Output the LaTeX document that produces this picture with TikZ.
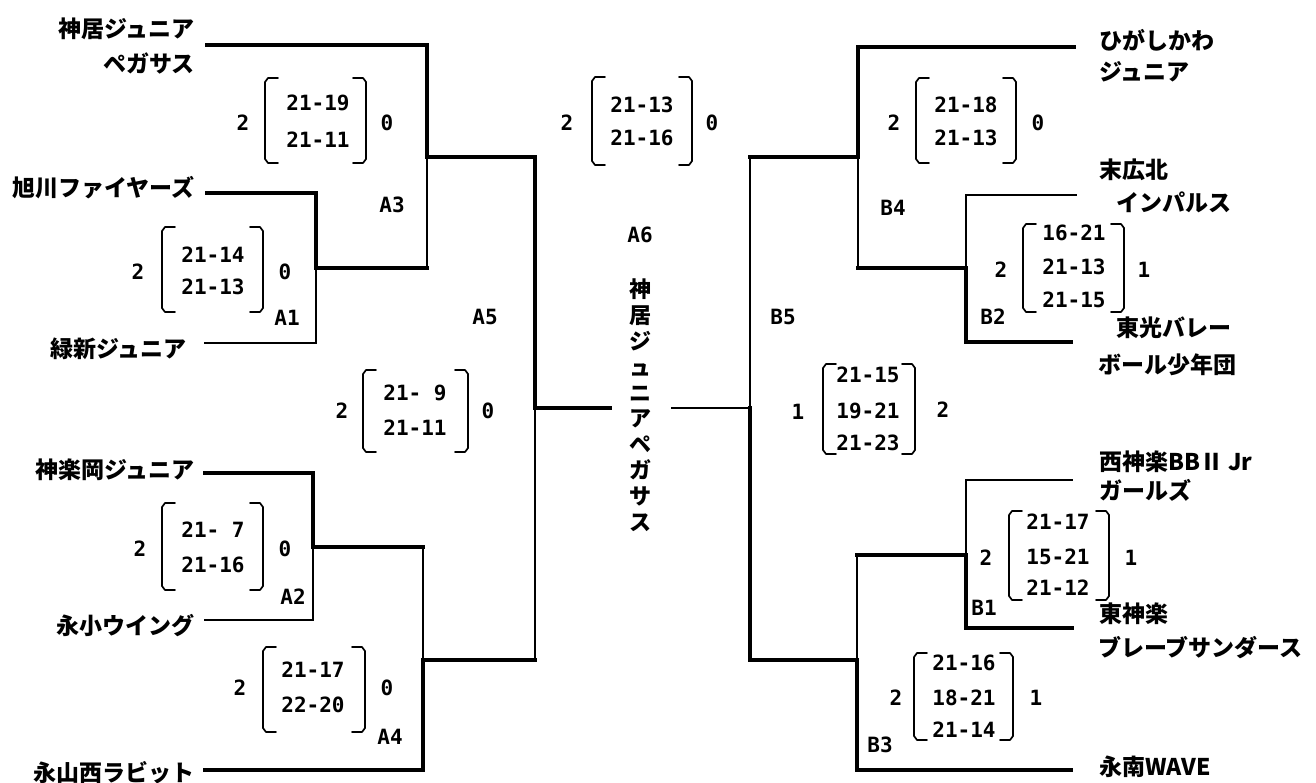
\documentclass[tikz,border=0pt]{standalone}
\usepackage{fontspec}
\setmainfont{Noto Sans CJK JP}
\newfontfamily\scorefont{DejaVu Sans Mono}
\tikzset{
  thickln/.style={line width=4.8pt, line cap=rect, line join=miter},
  thinln/.style={line width=1.6pt, line cap=rect, line join=miter},
  bracket/.style={line width=1.7pt, line join=round, line cap=round},
  team/.style={inner sep=0pt, font=\fontsize{23}{23}\selectfont\bfseries},
  sc/.style={inner sep=0pt, font=\scorefont\fontsize{21}{21}\selectfont\bfseries},
}
\newcommand\brkt[4]{%
  \draw[bracket] (#1+13,#3) -- (#1+3,#3) -- (#1,#3+4) -- (#1,#4-4) -- (#1+3,#4) -- (#1+13,#4);
  \draw[bracket] (#2-13,#3) -- (#2-3,#3) -- (#2,#3+4) -- (#2,#4-4) -- (#2-3,#4) -- (#2-13,#4);}
\begin{document}
\begin{tikzpicture}[x=1pt,y=-1pt]
\fill[white] (0,0) rectangle (1316,782);
\useasboundingbox (0,0) rectangle (1316,782);

% ---------- left coordinates
\coordinate (L1) at (207,45);
\coordinate (A3t) at (427,45);
\coordinate (A3m) at (427,157);
\coordinate (A3b) at (427,268);
\coordinate (L2) at (207,193);
\coordinate (A1t) at (316,193);
\coordinate (A1m) at (316,268);
\coordinate (A1b) at (316,343);
\coordinate (L3) at (205,343);
\coordinate (A5t) at (535,157);
\coordinate (A5m) at (535,408);
\coordinate (A5b) at (535,660);
\coordinate (A6l) at (610,408);
\coordinate (L4) at (205,473);
\coordinate (A2t) at (313,473);
\coordinate (A2m) at (313,547);
\coordinate (A2b) at (313,620);
\coordinate (L5) at (205,620);
\coordinate (A4t) at (423,547);
\coordinate (A4m) at (423,660);
\coordinate (A4b) at (423,770);
\coordinate (L6) at (205,770);
% ---------- right coordinates
\coordinate (A6r) at (672,408);
\coordinate (B5m) at (750,408);
\coordinate (B5t) at (750,157);
\coordinate (B5b) at (750,660);
\coordinate (B4m) at (858,157);
\coordinate (B4t) at (858,47);
\coordinate (R1) at (1074,47);
\coordinate (B4b) at (858,268);
\coordinate (B2m) at (966,268);
\coordinate (B2t) at (966,195);
\coordinate (R2) at (1076,195);
\coordinate (B2b) at (966,342);
\coordinate (R3) at (1071,342);
\coordinate (B3m) at (857,660);
\coordinate (B3t) at (857,555);
\coordinate (B3b) at (857,770);
\coordinate (R6) at (1071,770);
\coordinate (B1m) at (966,555);
\coordinate (B1t) at (966,480);
\coordinate (R4) at (1072,480);
\coordinate (B1b) at (966,628);
\coordinate (R5) at (1072,628);

% ---------- thin lines
\draw[thinln] (A3m) -- (A3b);
\draw[thinln] (A1m) -- (A1b) -- (L3);
\draw[thinln] (A2m) -- (A2b) -- (L5);
\draw[thinln] (A4t) -- (A4m);
\draw[thinln] (A5m) -- (A5b);
\draw[thinln] (A6r) -- (B5m) -- (B5t);
\draw[thinln] (B4m) -- (B4b);
\draw[thinln] (R2) -- (B2t) -- (B2m);
\draw[thinln] (B3t) -- (B3m);
\draw[thinln] (R4) -- (B1t) -- (B1m);
% ---------- thick lines
\draw[thickln] (L1) -- (A3t) -- (A3m) -- (A5t) -- (A5m) -- (A6l);
\draw[thickln] (L2) -- (A1t) -- (A1m) -- (A3b);
\draw[thickln] (L4) -- (A2t) -- (A2m) -- (A4t);
\draw[thickln] (L6) -- (A4b) -- (A4m) -- (A5b);
\draw[thickln] (R1) -- (B4t) -- (B4m) -- (B5t);
\draw[thickln] (R3) -- (B2b) -- (B2m) -- (B4b);
\draw[thickln] (B5m) -- (B5b) -- (B3m) -- (B3b) -- (R6);
\draw[thickln] (R5) -- (B1b) -- (B1m) -- (B3t);

% ---------- team names, left
\node[team, anchor=east] (n1a) at (195,29) {神居ジュニア};
\node[team, anchor=east] (n1b) at (195,63) {ペガサス};
\node[team, anchor=east] (n2) at (195,188) {旭川ファイヤーズ};
\node[team, anchor=east] (n3) at (187,349) {緑新ジュニア};
\node[team, anchor=east] (n4) at (195,470) {神楽岡ジュニア};
\node[team, anchor=east] (n5) at (195,626) {永小ウイング};
\node[team, anchor=east] (n6) at (195,773) {永山西ラビット};
% ---------- team names, right
\node[team, anchor=west] (m1a) at (1099,40) {ひがしかわ};
\node[team, anchor=west] (m1b) at (1099,72) {ジュニア};
\node[team, anchor=west] (m2a) at (1099,170) {末広北};
\node[team, anchor=west] (m2b) at (1116,202) {インパルス};
\node[team, anchor=west] (m3a) at (1116,328) {東光バレー};
\node[team, anchor=west] (m3b) at (1098,365) {ボール少年団};
\node[team, anchor=west] (m4a) at (1099,462) {西神楽BBⅡ Jr};
\node[team, anchor=west] (m4b) at (1099,490) {ガールズ};
\node[team, anchor=west] (m5a) at (1099,614) {東神楽};
\node[team, anchor=west] (m5b) at (1098,648) {ブレーブサンダース};
\node[team, anchor=west] (m6) at (1099,767) {永南WAVE};

% ---------- champion (vertical)
\node[inner sep=0pt, anchor=north, align=center, font=\fontsize{22}{25.8}\selectfont\bfseries] (champ) at (640,279)
  {神\\居\\ジ\\ュ\\ニ\\ア\\ペ\\ガ\\サ\\ス};

% ---------- A3
\node[sc] (a3l) at (243,123) {2};
\node[sc] (a3r1) at (318,103) {21-19};
\node[sc] (a3r2) at (318,140) {21-11};
\node[sc] (a3r) at (387,123) {0};
\brkt{265}{366}{78}{163}
\node[sc] (a3) at (392,205) {A3};
% ---------- A1
\node[sc] (a1l) at (138,272) {2};
\node[sc] (a1r1) at (213,255) {21-14};
\node[sc] (a1r2) at (213,287) {21-13};
\node[sc] (a1r) at (285,272) {0};
\brkt{162}{263}{227}{312}
\node[sc] (a1) at (287,318) {A1};
% ---------- A5
\node[sc] (a5l) at (342,411) {2};
\node[sc] (a5r1) at (415,393) {21-~9};
\node[sc] (a5r2) at (415,428) {21-11};
\node[sc] (a5r) at (488,411) {0};
\brkt{363}{468}{370}{452}
\node[sc] (a5) at (485,317) {A5};
% ---------- A2
\node[sc] (a2l) at (140,549) {2};
\node[sc] (a2r1) at (213,530) {21-~7};
\node[sc] (a2r2) at (213,565) {21-16};
\node[sc] (a2r) at (285,549) {0};
\brkt{162}{263}{503}{590}
\node[sc] (a2) at (293,597) {A2};
% ---------- A4
\node[sc] (a4l) at (240,688) {2};
\node[sc] (a4r1) at (313,670) {21-17};
\node[sc] (a4r2) at (313,705) {22-20};
\node[sc] (a4r) at (387,688) {0};
\brkt{263}{365}{647}{732}
\node[sc] (a4) at (390,737) {A4};
% ---------- A6 (final)
\node[sc] (a6l) at (567,123) {2};
\node[sc] (a6r1) at (642,105) {21-13};
\node[sc] (a6r2) at (642,138) {21-16};
\node[sc] (a6r) at (712,123) {0};
\brkt{592}{692}{77}{165}
\node[sc] (a6) at (640,235) {A6};
% ---------- B5
\node[sc] (b5l) at (798,412) {1};
\node[sc] (b5r1) at (868,375) {21-15};
\node[sc] (b5r2) at (868,411) {19-21};
\node[sc] (b5r3) at (868,443) {21-23};
\node[sc] (b5r) at (943,410) {2};
\brkt{823}{915}{364}{454}
\node[sc] (b5) at (783,317) {B5};
% ---------- B4
\node[sc] (b4l) at (894,123) {2};
\node[sc] (b4r1) at (966,105) {21-18};
\node[sc] (b4r2) at (966,138) {21-13};
\node[sc] (b4r) at (1038,123) {0};
\brkt{916}{1016}{78}{163}
\node[sc] (b4) at (893,208) {B4};
% ---------- B2
\node[sc] (b2l) at (1001,270) {2};
\node[sc] (b2r1) at (1074,233) {16-21};
\node[sc] (b2r2) at (1074,267) {21-13};
\node[sc] (b2r3) at (1074,300) {21-15};
\node[sc] (b2r) at (1144,270) {1};
\brkt{1023}{1124}{224}{312}
\node[sc] (b2) at (993,317) {B2};
% ---------- B1
\node[sc] (b1l) at (986,558) {2};
\node[sc] (b1r1) at (1058,522) {21-17};
\node[sc] (b1r2) at (1058,557) {15-21};
\node[sc] (b1r3) at (1058,588) {21-12};
\node[sc] (b1r) at (1131,558) {1};
\brkt{1009}{1109}{511}{600}
\node[sc] (b1) at (984,608) {B1};
% ---------- B3
\node[sc] (b3l) at (896,698) {2};
\node[sc] (b3r1) at (964,663) {21-16};
\node[sc] (b3r2) at (964,698) {18-21};
\node[sc] (b3r3) at (964,730) {21-14};
\node[sc] (b3r) at (1036,698) {1};
\brkt{914}{1013}{653}{740}
\node[sc] (b3) at (880,745) {B3};
\end{tikzpicture}
\end{document}
